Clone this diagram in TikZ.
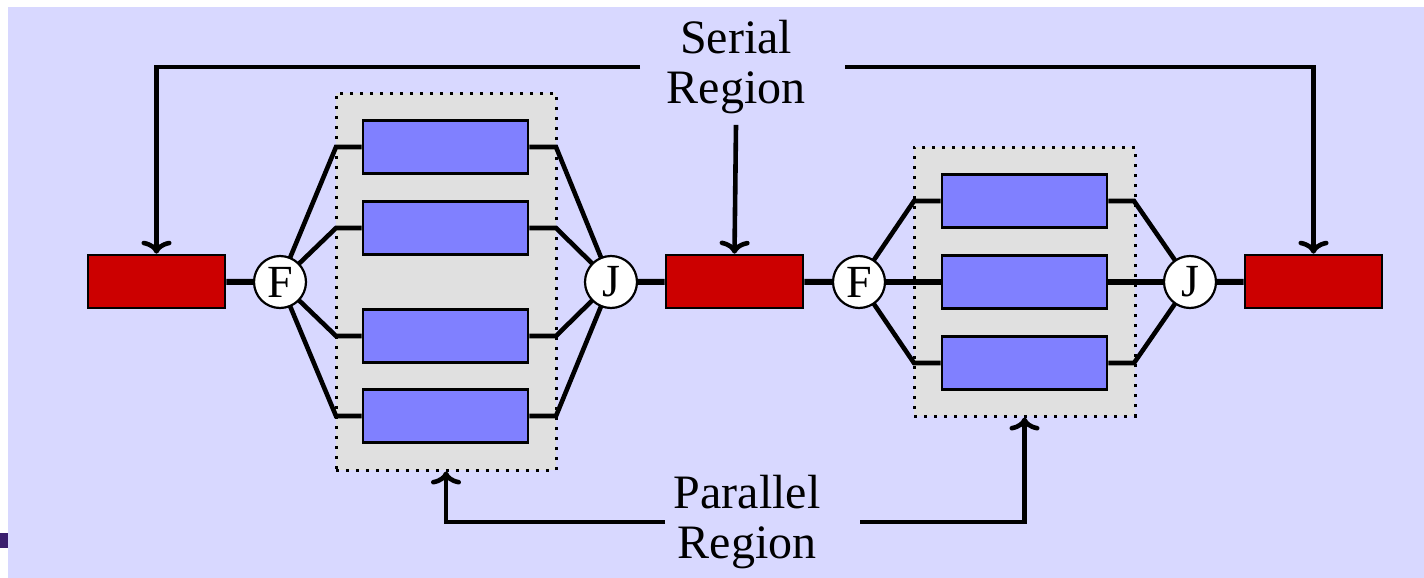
\documentclass[tikz,border=0pt]{standalone}
\usepackage{fontspec}
\setmainfont{Liberation Serif}
\newfontfamily\labelfont{Liberation Serif}
\usetikzlibrary{arrows.meta}
\definecolor{bgpanel}{RGB}{216,216,255}
\definecolor{regionfill}{RGB}{224,224,224}
\definecolor{taskfill}{RGB}{128,128,255}
\definecolor{serialfill}{RGB}{204,0,0}
\definecolor{edgebar}{RGB}{58,30,110}
\pgfdeclarelayer{panel}
\pgfdeclarelayer{wires}
\pgfsetlayers{panel,wires,main}
\begin{document}
\begin{tikzpicture}[x=0.5pt,y=-0.5pt,
  serialbox/.style={draw=black,line width=1.3pt,fill=serialfill,minimum width=68.5pt,minimum height=26.5pt,inner sep=0pt},
  taskbox/.style={draw=black,line width=1.3pt,fill=taskfill,minimum width=82.5pt,minimum height=26.5pt,inner sep=0pt},
  gate/.style={circle,draw=black,line width=1.1pt,fill=white,minimum size=26pt,inner sep=0pt,font=\labelfont\fontsize{23}{23}\selectfont},
  region/.style={draw=black,line width=1.5pt,dash pattern=on 1.5pt off 3.5pt,fill=regionfill,inner sep=0pt},
  flow/.style={line width=3pt},
  branch/.style={line width=2.3pt},
  pointer/.style={line width=2.3pt,-{To[length=6.5pt,width=15pt]}},
  label/.style={align=center,font=\labelfont\fontsize{24}{25}\selectfont}
]
% page and panel
\useasboundingbox (0,0) rectangle (1424,578);
\begin{pgfonlayer}{panel}
\fill[white] (0,0) rectangle (1424,578);
\fill[bgpanel] (8,7) rectangle (1424,578);
\fill[edgebar] (0,533) rectangle (8,548);
% parallel regions
\node[region,minimum width=110pt,minimum height=188.5pt] (reg1) at (446,281.5) {};
\node[region,minimum width=110.5pt,minimum height=134.5pt] (reg2) at (1024.5,281.5) {};
\end{pgfonlayer}

% serial tasks
\node[serialbox] (r1) at (156.5,281.5) {};
\node[serialbox] (r2) at (734.5,281.5) {};
\node[serialbox] (r3) at (1313.5,281.5) {};

% fork and join points
\node[gate] (f1) at (280,282) {F};
\node[gate] (j1) at (611,282) {J};
\node[gate] (f2) at (859,282) {F};
\node[gate] (j2) at (1190,282) {J};

% parallel tasks, first region
\node[taskbox] (a1) at (445.5,147) {};
\node[taskbox] (a2) at (445.5,228) {};
\node[taskbox] (a3) at (445.5,336) {};
\node[taskbox] (a4) at (445.5,416) {};

% parallel tasks, second region
\node[taskbox] (b1) at (1024.5,201) {};
\node[taskbox] (b2) at (1024.5,282) {};
\node[taskbox] (b3) at (1024.5,363) {};

% branch corners
\coordinate (al1) at (336,147); \coordinate (ar1) at (556,147);
\coordinate (al2) at (336,228); \coordinate (ar2) at (556,228);
\coordinate (al3) at (336,336); \coordinate (ar3) at (556,336);
\coordinate (al4) at (336,416); \coordinate (ar4) at (556,416);
\coordinate (bl1) at (914,201); \coordinate (br1) at (1134,201);
\coordinate (bl3) at (914,363); \coordinate (br3) at (1134,363);

\begin{pgfonlayer}{wires}
% serial flow
\draw[flow] (r1) -- (f1);
\draw[flow] (j1) -- (r2);
\draw[flow] (r2) -- (f2);
\draw[flow] (j2) -- (r3);
% fork and join branches
\draw[branch] (f1.center) -- (al1) -- (a1.west);
\draw[branch] (f1.center) -- (al2) -- (a2.west);
\draw[branch] (f1.center) -- (al3) -- (a3.west);
\draw[branch] (f1.center) -- (al4) -- (a4.west);
\draw[branch] (a1.east) -- (ar1) -- (j1.center);
\draw[branch] (a2.east) -- (ar2) -- (j1.center);
\draw[branch] (a3.east) -- (ar3) -- (j1.center);
\draw[branch] (a4.east) -- (ar4) -- (j1.center);
\draw[branch] (f2.center) -- (bl1) -- (b1.west);
\draw[flow] (f2) -- (b2.west);
\draw[branch] (f2.center) -- (bl3) -- (b3.west);
\draw[branch] (b1.east) -- (br1) -- (j2.center);
\draw[flow] (b2.east) -- (j2);
\draw[branch] (b3.east) -- (br3) -- (j2.center);
\end{pgfonlayer}

% labels
\node[label] (serial) at (736,67) {Serial\\Region};
\node[label] (parallel) at (747,522) {Parallel\\Region};

% label pointers
\coordinate (sl) at (640,67);
\coordinate (sr) at (845,67);
\coordinate (pl) at (665,522);
\coordinate (pr) at (860,522);
\draw[pointer] (sl) -| (r1.north);
\draw[pointer] (sr) -| (r3.north);
\draw[pointer] ([yshift=-2pt]serial.south) -- (r2.north);
\draw[pointer] (pl) -| (reg1.south);
\draw[pointer] (pr) -| (reg2.south);
\end{tikzpicture}
\end{document}
